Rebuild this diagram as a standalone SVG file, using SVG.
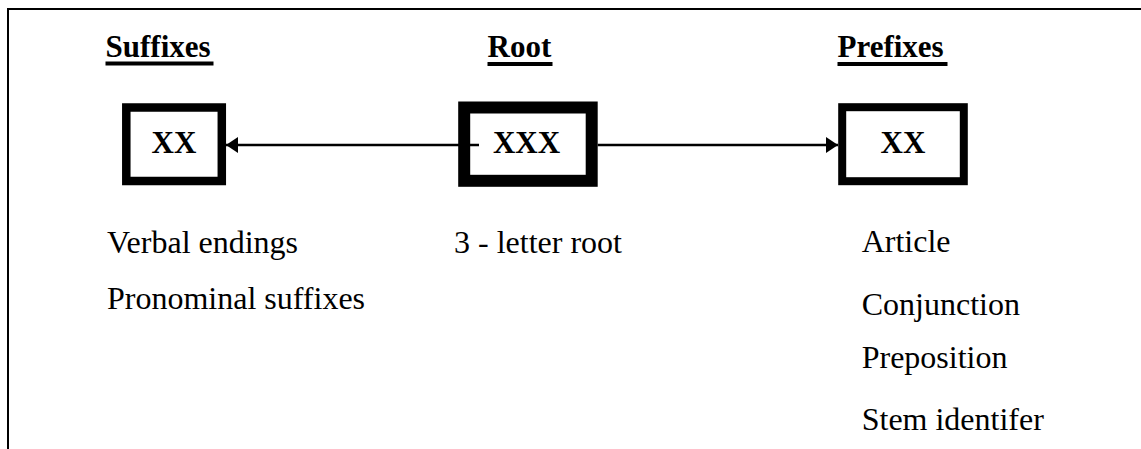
<svg xmlns="http://www.w3.org/2000/svg" width="1141" height="449" viewBox="0 0 1141 449">
<style>
  .hdr{font-family:"Liberation Serif","Times New Roman",serif;font-weight:bold;font-size:31px;fill:#000}
  .box{fill:#fff;stroke:#000}
  .lbl{font-family:"Liberation Serif","Times New Roman",serif;font-weight:bold;font-size:31px;fill:#000;text-anchor:middle}
  .txt{font-family:"Liberation Serif","Times New Roman",serif;font-size:32px;fill:#000}
  .ul{fill:#000}
  .conn{stroke:#000;stroke-width:2.5;fill:none}
  .frame{stroke:#000;stroke-width:2;fill:none}
</style>
<defs>
  <marker id="ah" markerUnits="userSpaceOnUse" markerWidth="13" markerHeight="16" refX="12" refY="8" orient="auto">
    <path d="M0,0 L12,8 L0,16 z" fill="#000"/>
  </marker>
</defs>
<rect width="1141" height="449" fill="#fff"/>
<path class="frame" d="M8,449 V9 H1141"/>

<g id="hdr-suffixes">
  <text class="hdr" x="105.5" y="57">Suffixes</text>
  <rect class="ul" x="105.5" y="61.5" width="108" height="4"/>
</g>
<g id="hdr-root">
  <text class="hdr" x="487.5" y="57">Root</text>
  <rect class="ul" x="487.5" y="62" width="65" height="4"/>
</g>
<g id="hdr-prefixes">
  <text class="hdr" x="837.5" y="57">Prefixes</text>
  <rect class="ul" x="837.5" y="62" width="110" height="4"/>
</g>

<g id="node-suffix">
  <rect class="box" x="126.3" y="107.5" width="95.5" height="73.5" stroke-width="8.5"/>
  <text class="lbl" x="174" y="153">XX</text>
</g>
<g id="node-root">
  <rect class="box" x="464.2" y="107.5" width="127.5" height="73.3" stroke-width="12"/>
  <text class="lbl" x="526.5" y="153.3">XXX</text>
</g>
<g id="node-prefix">
  <rect class="box" x="842.2" y="107.2" width="121.6" height="74" stroke-width="8"/>
  <text class="lbl" x="903" y="153.3">XX</text>
</g>

<g id="connectors">
  <path class="conn" d="M479,145 H226" marker-end="url(#ah)"/>
  <path class="conn" d="M597.7,145 H838" marker-end="url(#ah)"/>
</g>

<g id="suffix-list">
  <text class="txt" x="107" y="253">Verbal endings</text>
  <text class="txt" x="107" y="309">Pronominal suffixes</text>
</g>
<g id="root-list">
  <text class="txt" x="454" y="253">3 - letter root</text>
</g>
<g id="prefix-list">
  <text class="txt" x="861.7" y="251.7">Article</text>
  <text class="txt" x="861.7" y="315">Conjunction</text>
  <text class="txt" x="861.7" y="368.3">Preposition</text>
  <text class="txt" x="861.7" y="430">Stem identifer</text>
</g>
</svg>
